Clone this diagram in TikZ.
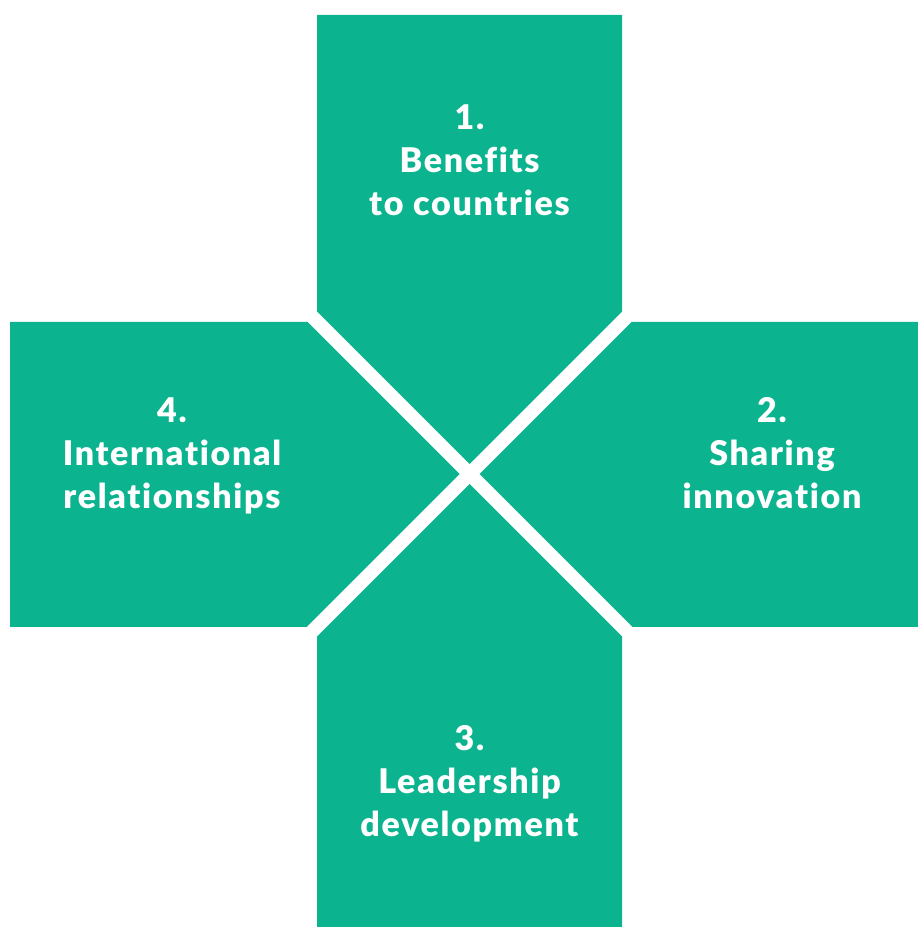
\documentclass[tikz,border=0pt]{standalone}
\usepackage{fontspec}
\setmainfont{Lato}[UprightFont=* Black, Ligatures=NoCommon, LetterSpace=5]
\usepackage{tikz}
\definecolor{crossgreen}{RGB}{11,180,143}

\begin{document}
\begin{tikzpicture}[x=1pt, y=1pt,
        arm/.style={fill=crossgreen},
        label/.style={text=white, align=center, font=\fontsize{34}{43}\selectfont, anchor=base}]

            \useasboundingbox (0,0) rectangle (918,927);

            \coordinate (O) at (469.5,453);

            % Draw arm (top)
            \fill[arm] (469.5,463) -- (622,615.5) -- (622,912) -- (317,912) -- (317,615.5) -- cycle;

            % Draw arm (right)
            \fill[arm] (479.5,453) -- (631.5,605) -- (918,605) -- (918,300) -- (632.5,300) -- cycle;

            % Draw arm (bottom)
            \fill[arm] (469.5,443) -- (622,290.5) -- (622,0) -- (317,0) -- (317,290.5) -- cycle;

            % Draw arm (left)
            \fill[arm] (459.5,453) -- (307.5,605) -- (10,605) -- (10,300) -- (306.5,300) -- cycle;

            % Labels (base = last line)
            \node[label] (benefits) at (469.5,711) {1.\\Benefits\\to countries};
            \node[label] (sharing) at (772,418) {2.\\Sharing\\innovation};
            \node[label] (leadership) at (469.5,90) {3.\\Leadership\\development};
            \node[label] (relations) at (172,418) {4.\\International\\relationships};

        \end{tikzpicture}
\end{document}
